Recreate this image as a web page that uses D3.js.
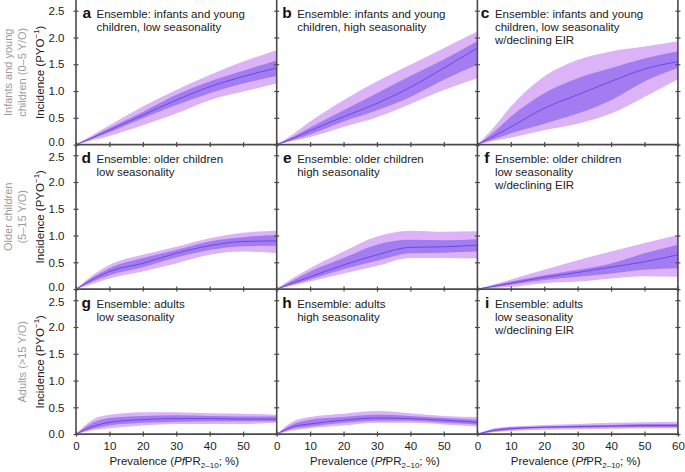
<!DOCTYPE html>
<html><head><meta charset="utf-8">
<script src="https://cdn.jsdelivr.net/npm/d3@7"></script>
<style>body{margin:0;background:#fff}svg{display:block}text{font-family:"Liberation Sans",Arial,Helvetica,sans-serif}</style>
</head><body>
<svg id="c" width="685" height="472"></svg>
<script>
const prevalence = [0, 5, 10, 20, 30, 40, 50, 60];
const panelLetters = ["a","b","c","d","e","f","g","h","i"];
const panelTitles = [
  ["Ensemble: infants and young","children, low seasonality"],
  ["Ensemble: infants and young","children, high seasonality"],
  ["Ensemble: infants and young","children, low seasonality","w/declining EIR"],
  ["Ensemble: older children","low seasonality"],
  ["Ensemble: older children","high seasonality"],
  ["Ensemble: older children","low seasonality","w/declining EIR"],
  ["Ensemble: adults","low seasonality"],
  ["Ensemble: adults","high seasonality"],
  ["Ensemble: adults","low seasonality","w/declining EIR"]
];
const rowLabels = [["Infants and young","children (0–5 Y/O)"],["Older children","(5–15 Y/O)"],["Adults (>15 Y/O)"]];
const yTickValues = [0, 0.5, 1.0, 1.5, 2.0, 2.5];
const xTickValuesInner = [0, 10, 20, 30, 40, 50];
const xTickValuesLast = [0, 10, 20, 30, 40, 50, 60];

// quantile bands per panel (a..i), values at each prevalence point
const outerHigh = [
  [0,0.18,0.36,0.71,1.02,1.30,1.55,1.76],
  [0,0.20,0.43,0.83,1.18,1.49,1.80,2.11],
  [0,0.33,0.71,1.27,1.58,1.74,1.83,1.93],
  [0,0.26,0.45,0.64,0.79,0.95,1.05,1.09],
  [0,0.21,0.39,0.70,0.98,1.09,1.07,1.08],
  [0,0.09,0.18,0.36,0.54,0.70,0.86,1.01],
  [0,0.27,0.36,0.41,0.41,0.39,0.38,0.36],
  [0,0.24,0.32,0.38,0.43,0.39,0.34,0.32],
  [0,0.11,0.14,0.17,0.19,0.21,0.22,0.23]
];
const innerHigh = [
  [0,0.15,0.31,0.61,0.93,1.18,1.38,1.57],
  [0,0.15,0.32,0.64,0.96,1.28,1.59,1.93],
  [0,0.24,0.52,0.96,1.24,1.43,1.61,1.74],
  [0,0.22,0.39,0.58,0.73,0.89,0.97,1.01],
  [0,0.17,0.33,0.58,0.83,0.92,0.91,0.93],
  [0,0.07,0.14,0.26,0.36,0.48,0.67,0.83],
  [0,0.21,0.30,0.34,0.35,0.34,0.33,0.33],
  [0,0.19,0.27,0.32,0.36,0.34,0.30,0.27],
  [0,0.09,0.13,0.14,0.16,0.17,0.19,0.19]
];
const median = [
  [0,0.13,0.27,0.55,0.83,1.08,1.27,1.43],
  [0,0.12,0.26,0.52,0.77,1.07,1.43,1.80],
  [0,0.16,0.33,0.68,0.93,1.18,1.41,1.55],
  [0,0.18,0.33,0.48,0.67,0.81,0.89,0.90],
  [0,0.12,0.23,0.45,0.64,0.78,0.79,0.82],
  [0,0.055,0.11,0.22,0.31,0.41,0.51,0.64],
  [0,0.14,0.22,0.27,0.29,0.29,0.28,0.28],
  [0,0.14,0.19,0.26,0.30,0.29,0.26,0.22],
  [0,0.07,0.10,0.13,0.14,0.15,0.16,0.16]
];
const innerLow = [
  [0,0.11,0.23,0.49,0.74,0.96,1.14,1.28],
  [0,0.09,0.19,0.43,0.64,0.89,1.21,1.49],
  [0,0.10,0.21,0.39,0.58,0.83,1.18,1.43],
  [0,0.14,0.26,0.41,0.59,0.73,0.80,0.81],
  [0,0.09,0.18,0.37,0.53,0.67,0.68,0.70],
  [0,0.04,0.08,0.17,0.23,0.29,0.36,0.39],
  [0,0.10,0.16,0.21,0.23,0.24,0.24,0.24],
  [0,0.10,0.14,0.21,0.25,0.25,0.21,0.18],
  [0,0.05,0.08,0.11,0.12,0.13,0.13,0.13]
];
const outerLow = [
  [0,0.08,0.16,0.36,0.58,0.83,0.99,1.14],
  [0,0.07,0.14,0.33,0.51,0.76,1.02,1.24],
  [0,0.07,0.13,0.27,0.39,0.58,0.89,1.22],
  [0,0.10,0.20,0.33,0.48,0.64,0.70,0.67],
  [0,0.07,0.14,0.29,0.43,0.58,0.58,0.57],
  [0,0.02,0.04,0.11,0.14,0.20,0.24,0.23],
  [0,0.07,0.11,0.16,0.19,0.19,0.19,0.21],
  [0,0.07,0.11,0.16,0.21,0.21,0.18,0.14],
  [0,0.04,0.06,0.08,0.09,0.10,0.11,0.11]
];

const colLeft = [76, 276.7, 477.4];
const panelW = 200.5;
const rowTop = [0, 144.5, 289.5];
const panelH = 144.6;
const outerColor = "#dbb3f6", innerColor = "#a47cf1", lineColor = "#6c48e4";
const axisColor = "#4a4a4a";
const fs = 11.5;

const svg = d3.select("#c");

for (let p = 0; p < 9; p++) {
  const r = Math.floor(p / 3), c = p % 3;
  const x = d3.scaleLinear().domain([0, 60]).range([colLeft[c], colLeft[c] + panelW]);
  const y = d3.scaleLinear().domain([0, 2.7]).range([rowTop[r] + panelH, rowTop[r]]);
  const g = svg.append("g");
  const idx = d3.range(prevalence.length);
  const area = (lo, hi) => d3.area().curve(d3.curveMonotoneX)
      .x(i => x(prevalence[i])).y0(i => y(lo[i])).y1(i => y(hi[i]));
  g.append("path").attr("d", area(outerLow[p], outerHigh[p])(idx)).attr("fill", outerColor);
  g.append("path").attr("d", area(innerLow[p], innerHigh[p])(idx)).attr("fill", innerColor);
  g.append("path").attr("d", d3.line().curve(d3.curveMonotoneX).x(i => x(prevalence[i])).y(i => y(median[p][i]))(idx))
    .attr("fill", "none").attr("stroke", lineColor).attr("stroke-width", 1);

  // left axis
  const ya = d3.axisLeft(y).tickValues(yTickValues).tickSize(2.5).tickPadding(9)
      .tickFormat(c === 0 ? d3.format(".1f") : () => "");
  const yg = g.append("g").attr("transform", `translate(${colLeft[c]},0)`).call(ya);
  yg.select(".domain").attr("stroke", axisColor).attr("stroke-width", 1.6).attr("d", `M0,${rowTop[r]}V${rowTop[r] + panelH}`);
  yg.selectAll(".tick line").attr("x1", 2.5).attr("x2", -2.5).attr("stroke", axisColor).attr("stroke-width", 1.2);
  yg.selectAll(".tick text").attr("font-size", fs).attr("fill", "#222").attr("font-family", "Liberation Sans, Arial, sans-serif")
    .attr("dy", d => (d === 0 && r < 2) ? "0.12em" : (d === 2.5 && r > 0) ? "0.45em" : "0.32em");

  if (c === 2) {
    const yr = d3.axisRight(y).tickValues(yTickValues).tickSize(2.5).tickFormat(() => "");
    const yrg = g.append("g").attr("transform", `translate(${colLeft[c] + panelW},0)`).call(yr);
    yrg.select(".domain").attr("stroke", axisColor).attr("stroke-width", 1.6).attr("d", `M0,${rowTop[r]}V${rowTop[r] + panelH}`);
    yrg.selectAll(".tick line").attr("x1", -2.5).attr("x2", 2.5).attr("stroke", axisColor).attr("stroke-width", 1.2);
  }

  // bottom axis
  const xa = d3.axisBottom(x).tickValues(c === 2 ? xTickValuesLast : xTickValuesInner).tickSize(2.5).tickPadding(5)
      .tickFormat(r === 2 ? d3.format("d") : () => "");
  const xg = g.append("g").attr("transform", `translate(0,${rowTop[r] + panelH})`).call(xa);
  xg.select(".domain").attr("stroke", axisColor).attr("stroke-width", 1.6).attr("d", `M${colLeft[c]},0H${colLeft[c] + panelW}`);
  xg.selectAll(".tick line").attr("y1", -2.5).attr("y2", 2.5).attr("stroke", axisColor).attr("stroke-width", 1.2);
  xg.selectAll(".tick text").attr("font-size", fs).attr("fill", "#222").attr("font-family", "Liberation Sans, Arial, sans-serif");

  // title
  const tx = colLeft[c] + (c === 2 ? 17.5 : 20.5);
  g.append("text").attr("x", tx - 5.5).attr("y", rowTop[r] + 18).attr("text-anchor", "end")
    .attr("font-size", 15.5).attr("font-weight", "bold").attr("fill", "#111").text(panelLetters[p]);
  panelTitles[p].forEach((t, k) => {
    g.append("text").attr("x", tx).attr("y", rowTop[r] + 18 + k * 13)
      .attr("font-size", fs).attr("fill", "#222").text(t);
  });

  // x label
  if (r === 2) {
    const t = g.append("text").attr("x", colLeft[c] + panelW / 2 - 2).attr("y", 465).attr("text-anchor", "middle")
      .attr("font-size", fs).attr("fill", "#222");
    t.append("tspan").text("Prevalence (");
    t.append("tspan").attr("font-style", "italic").text("Pf");
    t.append("tspan").text("PR");
    t.append("tspan").attr("font-size", 8).attr("dy", 3).text("2–10");
    t.append("tspan").attr("dy", -3).text("; %)");
  }
}

// row labels
rowLabels.forEach((lines, r) => {
  const cy = rowTop[r] + panelH / 2;
  const yl = svg.append("text").attr("transform", `translate(44,${cy}) rotate(-90)`).attr("text-anchor", "middle")
    .attr("font-size", fs).attr("fill", "#222");
  yl.append("tspan").text("Incidence (PYO");
  yl.append("tspan").attr("font-size", 8).attr("dy", -5).text("−1");
  yl.append("tspan").attr("dy", 5).text(")");
  const xs = lines.length === 2 ? [12, 25.5] : [25.5];
  lines.forEach((t, k) => {
    svg.append("text").attr("transform", `translate(${xs[k]},${cy}) rotate(-90)`).attr("text-anchor", "middle")
      .attr("font-size", 11).attr("fill", "#9a9a9a").text(t);
  });
});
</script>
</body></html>
